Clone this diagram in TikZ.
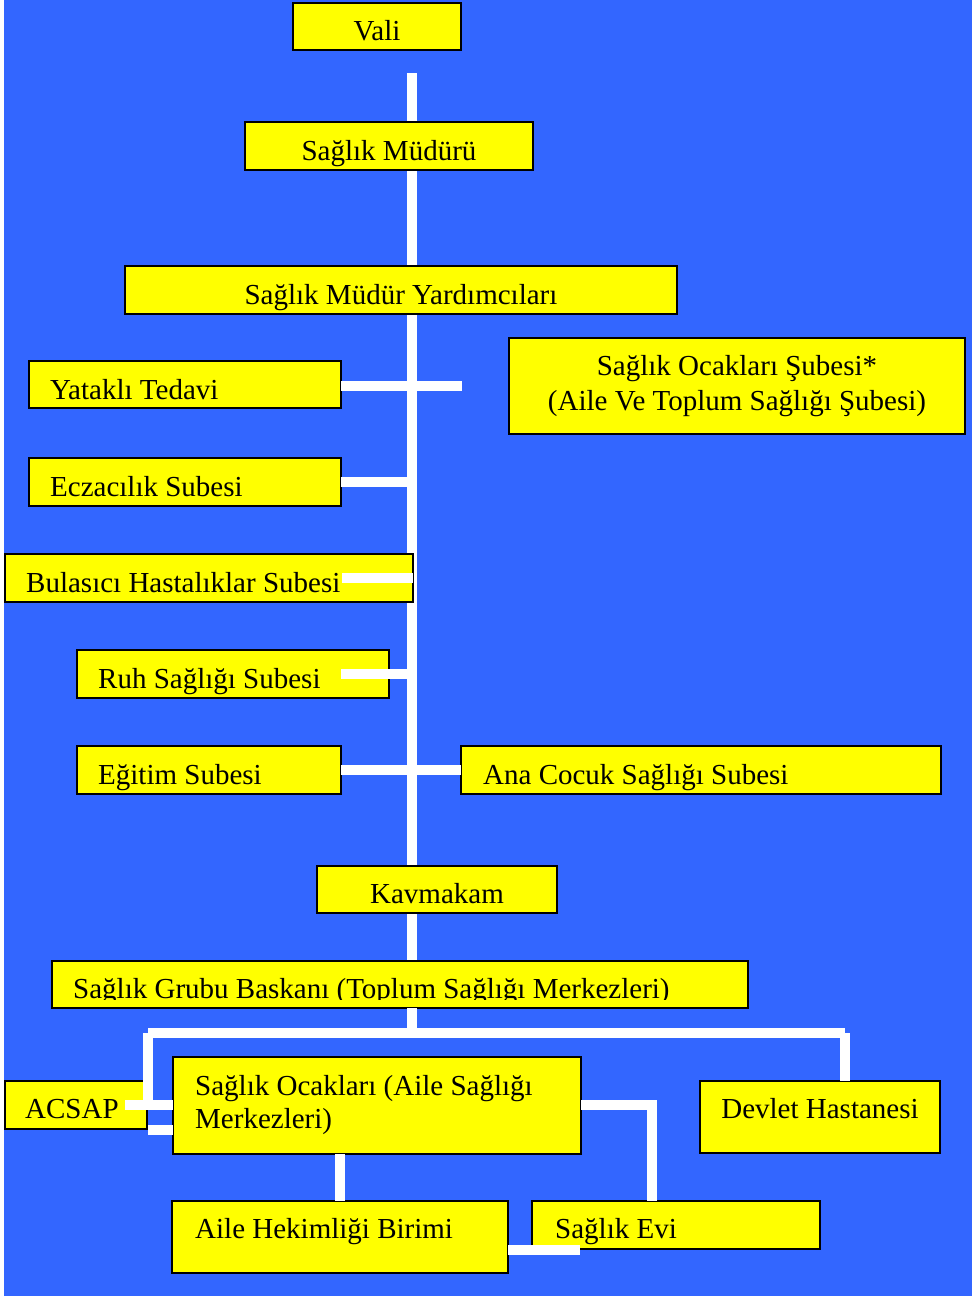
\documentclass[tikz,border=0pt]{standalone}
\usepackage{fontspec}
\setmainfont{Liberation Serif}
\definecolor{panelblue}{HTML}{3366FF}
\definecolor{boxyellow}{HTML}{FFFF00}
\begin{document}
\begin{tikzpicture}[x=1pt,y=-1pt,
  box/.style={draw=black, line width=1.8pt, fill=boxyellow, inner sep=0pt, outer sep=0pt, rectangle},
  lbl/.style={font=\fontsize{29}{34}\selectfont, inner sep=0pt, text=black},
  wire/.style={draw=white, line width=10pt, line cap=butt, line join=miter}]
% page and panel
\useasboundingbox (0,0) rectangle (974,1296);
\fill[white] (0,0) rectangle (974,1296);
\fill[panelblue] (4,0) rectangle (972,1296);

% trunk line behind the boxes
\coordinate (spineTop) at (412,73);
\coordinate (hub) at (412,1033);
\draw[wire] (spineTop) -- (hub);

% boxes
\node[box, minimum width=168pt, minimum height=47pt] (vali) at (377,26.5) {};
\node[box, minimum width=288pt, minimum height=48pt] (mudur) at (389,146) {};
\node[box, minimum width=552pt, minimum height=48pt] (yard) at (401,290) {};
\node[box, minimum width=312pt, minimum height=47pt] (yatakli) at (185,384.5) {};
\node[box, minimum width=456pt, minimum height=96pt] (ocaksube) at (737,386) {};
\node[box, minimum width=312pt, minimum height=48pt] (eczaci) at (185,482) {};
\node[box, minimum width=408pt, minimum height=48pt] (bulasici) at (209,578) {};
\node[box, minimum width=312pt, minimum height=48pt] (ruh) at (233,674) {};
\node[box, minimum width=264pt, minimum height=48pt] (egitim) at (209,770) {};
\node[box, minimum width=480pt, minimum height=48pt] (ana) at (701,770) {};
\node[box, minimum width=240pt, minimum height=47pt] (kay) at (437,889.5) {};
\node[box, minimum width=696pt, minimum height=47pt] (grubu) at (400,984.5) {};
\node[box, minimum width=142pt, minimum height=48pt] (acsap) at (76,1105) {};
\node[box, minimum width=408pt, minimum height=97pt] (ocak) at (377,1105.5) {};
\node[box, minimum width=240pt, minimum height=72pt] (devlet) at (820,1117) {};
\node[box, minimum width=336pt, minimum height=72pt] (aile) at (340,1237) {};
\node[box, minimum width=288pt, minimum height=48pt] (evi) at (676,1225) {};

% labels
\node[lbl, anchor=base] (tVali) at (377,40) {Vali};
\node[lbl, anchor=base] (tMudur) at (389,160) {Sağlık Müdürü};
\node[lbl, anchor=base] (tYard) at (401,304) {Sağlık Müdür Yardımcıları};
\node[lbl, anchor=base west] (tYatakli) at (50,399) {Yataklı Tedavi};
\node[lbl, anchor=base] (tSube1) at (737,375) {Sağlık Ocakları Şubesi*};
\node[lbl, anchor=base] (tSube2) at (737,410) {(Aile Ve Toplum Sağlığı Şubesi)};
\node[lbl, anchor=base west] (tEczaci) at (50,496) {Eczacılık Subesi};
\node[lbl, anchor=base west] (tBulasici) at (26,592) {Bulasıcı Hastalıklar Subesi};
\node[lbl, anchor=base west] (tRuh) at (98,688) {Ruh Sağlığı Subesi};
\node[lbl, anchor=base west] (tEgitim) at (98,784) {Eğitim Subesi};
\node[lbl, anchor=base west] (tAna) at (483,784) {Ana Cocuk Sağlığı Subesi};
\node[lbl, anchor=base] (tKay) at (437,903) {Kavmakam};
\begin{scope}
  \clip (52,961) rectangle (748,999);
  \node[lbl, anchor=base west] (tGrubu) at (73,998) {Sağlık Grubu Baskanı (Toplum Sağlığı Merkezleri)};
\end{scope}
\node[lbl, anchor=base west] (tAcsap) at (25,1118) {ACSAP};
\node[lbl, anchor=base west] (tOcak1) at (195,1095) {Sağlık Ocakları (Aile Sağlığı};
\node[lbl, anchor=base west] (tOcak2) at (195,1128) {Merkezleri)};
\node[lbl, anchor=base] (tDevlet) at (820,1118) {Devlet Hastanesi};
\node[lbl, anchor=base west] (tAile) at (195,1238) {Aile Hekimliği Birimi};
\node[lbl, anchor=base west] (tEvi) at (555,1238) {Sağlık Evi};

% branches off the trunk
\draw[wire] ([yshift=-1.5pt]yatakli.east) -- ++(121,0);
\draw[wire] (eczaci.east) -- (eczaci.east -| hub);
\draw[wire] ([xshift=-71pt]bulasici.east) -- (bulasici.east);
\draw[wire] ([xshift=-48pt]ruh.east) -- (ruh.east -| hub);
\draw[wire] (egitim.east) -- (ana.west);

% lower distribution
\coordinate (hubL) at (148,1033);
\coordinate (hubR) at (845,1033);
\coordinate (acsapJ) at (148,1105);
\coordinate (acsapK) at (148,1130);
\coordinate (eviJ) at (652,1105);
\draw[wire] (hub |- grubu.south) -- (hub);
\draw[wire] (hubL) -- (hubR);
\draw[wire] (hubR) -- (hubR |- devlet.north);
\draw[wire] (hubL) -- ([yshift=-5pt]acsapJ);
\draw[wire] ([xshift=-22pt]acsap.east |- acsapJ) -- (ocak.west |- acsapJ);
\draw[wire] (acsapK) -- (ocak.west |- acsapK);
\draw[wire] (ocak.east |- eviJ) -- (eviJ) -- (eviJ |- evi.north);
\draw[wire] (aile.north |- ocak.south) -- (aile.north);
\draw[wire] ([yshift=-13pt]aile.east) -- ++(72,0);
\end{tikzpicture}
\end{document}
